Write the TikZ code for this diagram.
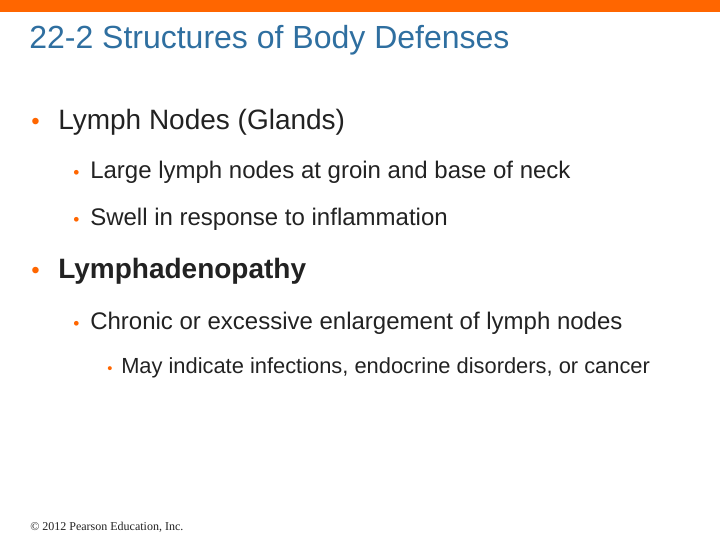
\documentclass[tikz,border=0pt]{standalone}
\usepackage{fontspec}
\setmainfont{Liberation Sans}
\newfontfamily\tnr{Liberation Serif}
\definecolor{ttl}{HTML}{2F6FA0}
\definecolor{org}{HTML}{FF6600}
\definecolor{txt}{HTML}{222222}
\begin{document}
\begin{tikzpicture}[x=0.75pt,y=-0.75pt,
 t/.style={anchor=base west,inner sep=0pt,text=txt},
 b/.style={anchor=base west,inner sep=0pt,text=org}]
\useasboundingbox (0,0) rectangle (720,540);
\fill[org] (0,0) rectangle (720,12);
\node[anchor=base west,inner sep=0pt,text=ttl,font=\fontsize{24}{28}\selectfont] (title) at (29,48) {22-2 Structures of Body Defenses};
\node[b,font=\fontsize{18}{22}\selectfont] (b1) at (31,129) {•};
\node[t,font=\fontsize{21}{24}\selectfont] (l1) at (58,129) {Lymph Nodes (Glands)};
\node[b,font=\fontsize{13}{16}\selectfont] (b2) at (73,178) {•};
\node[t,font=\fontsize{18}{21}\selectfont] (l2) at (90,178) {Large lymph nodes at groin and base of neck};
\node[b,font=\fontsize{13}{16}\selectfont] (b3) at (73,225) {•};
\node[t,font=\fontsize{18}{21}\selectfont] (l3) at (90,225) {Swell in response to inflammation};
\node[b,font=\fontsize{18}{22}\selectfont] (b4) at (31,278) {•};
\node[t,font=\fontsize{21}{24}\selectfont\bfseries] (l4) at (58,278) {Lymphadenopathy};
\node[b,font=\fontsize{13}{16}\selectfont] (b5) at (73,329) {•};
\node[t,font=\fontsize{18}{21}\selectfont] (l5) at (90,329) {Chronic or excessive enlargement of lymph nodes};
\node[b,font=\fontsize{11}{14}\selectfont] (b6) at (107,373) {•};
\node[t,font=\fontsize{16.4}{19}\selectfont] (l6) at (121,373) {May indicate infections, endocrine disorders, or cancer};
\node[anchor=base west,inner sep=0pt,text=txt,font=\tnr\fontsize{9}{11}\selectfont] (foot) at (30,530) {© 2012 Pearson Education, Inc.};
\end{tikzpicture}
\end{document}
